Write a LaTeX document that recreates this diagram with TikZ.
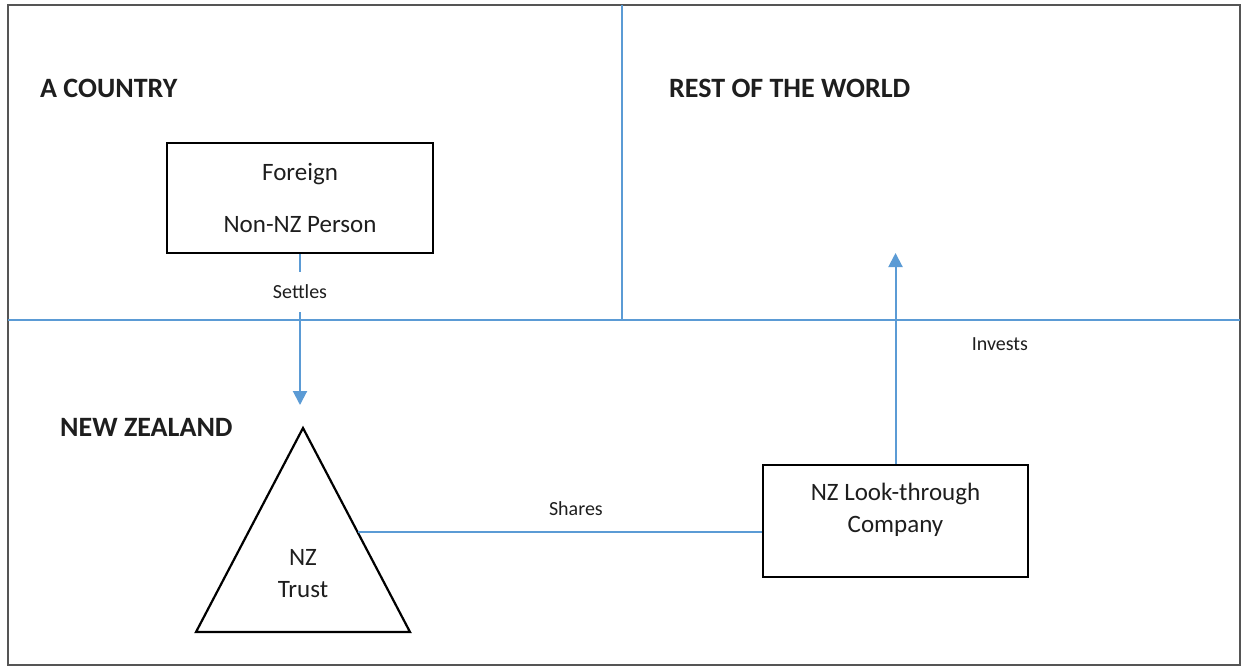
\documentclass[tikz,border=0pt]{standalone}
\usepackage{fontspec}
\setmainfont{Carlito}
\usetikzlibrary{calc,arrows.meta}
\definecolor{nzblue}{RGB}{91, 155, 213}
\definecolor{nzgrey}{RGB}{85, 85, 85}
\definecolor{nzink}{RGB}{30, 30, 30}

\tikzset{
  region/.style={nzblue, line width=1.6pt},
  flow/.style={nzblue, line width=2pt, -{Triangle[width=14pt,length=14pt]}},
  card/.style={draw=black, line width=2.2pt, minimum width=266pt, minimum height=110pt},
  cardtext/.style={font=\fontsize{25}{32}\selectfont, align=center, text=nzink},
  heading/.style={font=\fontsize{28}{30}\selectfont\bfseries, anchor=west, inner sep=0pt, text=nzink},
  tag/.style={font=\fontsize{20}{22}\selectfont, text=nzink}
}

\begin{document}
\begin{tikzpicture}[x=1pt, y=-1pt]
\useasboundingbox (0,0) rectangle (1246,667);

% outer frame and regions
\draw[nzgrey, line width=2.5pt] (8,5) rectangle (1240,665);
\draw[region] (8,320) -- (1240,320);
\draw[region] (622,5) -- (622,320);

\node[heading] (country) at (40,88) {A COUNTRY};
\node[heading] (world) at (669,88) {REST OF THE WORLD};
\node[heading] (nz) at (60,427) {NEW ZEALAND};

% foreign settlor
\node[card, cardtext] (foreign) at (300,198) {Foreign\\[20pt]Non-NZ Person};

% trust
\coordinate (trustTop) at (303,428);
\coordinate (trustL) at (196,632);
\coordinate (trustR) at (410,632);
\draw[line width=2.2pt, line join=miter] (trustTop) -- (trustR) -- (trustL) -- cycle;
\node[cardtext] (trust) at (303,574) {NZ\\Trust};
\coordinate (trustSide) at ($(trustTop)!0.51!(trustR)$);

% look-through company
\node[card, minimum width=265pt, minimum height=112pt] (company) at (895.5,521) {};
\node[cardtext, yshift=11pt] (companytext) at (company.center) {NZ Look-through\\Company};

% connectors
\coordinate (settleEnd) at (300,405);
\draw[flow] (foreign.south) -- node[tag, pos=0.25, fill=white, minimum height=40pt] (settles) {Settles} (settleEnd);
\draw[region, line width=2pt] (trustSide) -- node[tag, pos=0.54, above=12pt] (shares) {Shares} (trustSide -| company.west);
\coordinate (investEnd) at (895.5,253);
\draw[flow] (company.north) -- node[tag, pos=0.57, right=72pt] (invests) {Invests} (investEnd);
\end{tikzpicture}
\end{document}
